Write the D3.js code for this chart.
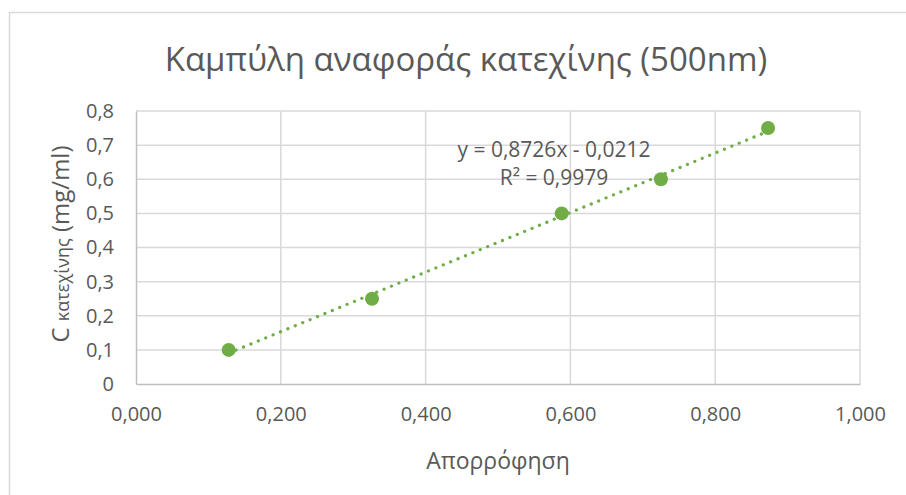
<!DOCTYPE html>
<html><head><meta charset="utf-8">
<script src="https://cdn.jsdelivr.net/npm/d3@7"></script>
<style>
html,body{margin:0;padding:0;background:#fff;}
svg{display:block;}
text{font-family:"Liberation Sans Narrow","Open Sans",sans-serif;fill:#595959;}
</style></head>
<body><svg id="c" width="906" height="495"></svg>
<script>
const absorbance = [0.128, 0.326, 0.588, 0.725, 0.873];
const concentration = [0.10, 0.25, 0.50, 0.60, 0.75];
const xTicks = [0, 0.2, 0.4, 0.6, 0.8, 1.0];
const yTicks = [0, 0.1, 0.2, 0.3, 0.4, 0.5, 0.6, 0.7, 0.8];
const slope = 0.8726, intercept = -0.0212;
const titleText = "Καμπύλη αναφοράς κατεχίνης (500nm)";
const xLabel = "Απορρόφηση";
const eqText = "y = 0,8726x - 0,0212";
const r2Text = "R² = 0,9979";

const svg = d3.select("#c");
const green = "#70ad47";
const grid = "#d9d9d9";

// chart border
svg.append("rect").attr("x",9.5).attr("y",12.5).attr("width",920).attr("height",520)
  .attr("fill","#fff").attr("stroke","#d9d9d9").attr("stroke-width",1.5);

const x = d3.scaleLinear().domain([0,1]).range([136,860]);
const y = d3.scaleLinear().domain([0,0.8]).range([384,111]);

const fmtX = v => d3.format(".3f")(v).replace(".",",");
const fmtY = v => v===0 ? "0" : d3.format(".1f")(v).replace(".",",");

// gridlines
svg.append("g").selectAll("line").data(yTicks.filter(d=>d>0)).join("line")
  .attr("x1",x(0)).attr("x2",x(1)).attr("y1",d=>y(d)).attr("y2",d=>y(d))
  .attr("stroke",grid).attr("stroke-width",1.5);
svg.append("g").selectAll("line").data(xTicks.filter(d=>d>0)).join("line")
  .attr("y1",y(0)).attr("y2",y(0.8)).attr("x1",d=>x(d)).attr("x2",d=>x(d))
  .attr("stroke",grid).attr("stroke-width",1.5);

// axes
const xAxis = svg.append("g").attr("transform",`translate(0,${y(0)})`)
  .call(d3.axisBottom(x).tickValues(xTicks).tickFormat(fmtX).tickSize(0).tickPadding(23));
xAxis.select(".domain").attr("stroke","#bfbfbf").attr("stroke-width",1.5);
xAxis.selectAll("text").attr("font-size",20).attr("fill","#595959")
  .style("font-family",'"Liberation Sans Narrow","Open Sans",sans-serif');

const yAxis = svg.append("g").attr("transform",`translate(${x(0)},0)`)
  .call(d3.axisLeft(y).tickValues(yTicks).tickFormat(fmtY).tickSize(0).tickPadding(22));
yAxis.select(".domain").attr("stroke","#bfbfbf").attr("stroke-width",1.5);
yAxis.selectAll("text").attr("font-size",20).attr("fill","#595959")
  .style("font-family",'"Liberation Sans Narrow","Open Sans",sans-serif');

// trendline
const x0 = d3.min(absorbance), x1 = d3.max(absorbance);
svg.append("line")
  .attr("x1",x(x0)).attr("y1",y(slope*x0+intercept))
  .attr("x2",x(x1)).attr("y2",y(slope*x1+intercept))
  .attr("stroke",green).attr("stroke-width",3.2).attr("stroke-linecap","round")
  .attr("stroke-dasharray","0.1 7.9");

// points
svg.append("g").selectAll("circle").data(absorbance.map((a,i)=>[a,concentration[i]])).join("circle")
  .attr("cx",d=>x(d[0])).attr("cy",d=>y(d[1])).attr("r",7).attr("fill",green);

// title
svg.append("text").attr("x",466).attr("y",71).attr("text-anchor","middle")
  .attr("font-size",33).text(titleText);

// axis titles
svg.append("text").attr("x",498).attr("y",469).attr("text-anchor","middle")
  .attr("font-size",23).text(xLabel);

const yl = svg.append("text").attr("transform","translate(69,244) rotate(-90)")
  .attr("text-anchor","middle").attr("font-size",24);
yl.append("tspan").text("C ");
yl.append("tspan").attr("font-size",18).text("κατεχίνης");
yl.append("tspan").text(" (mg/ml)");

// equation
svg.append("text").attr("x",554).attr("y",157).attr("text-anchor","middle")
  .attr("font-size",21).text(eqText);
svg.append("text").attr("x",554).attr("y",185).attr("text-anchor","middle")
  .attr("font-size",21).text(r2Text);
</script></body></html>
